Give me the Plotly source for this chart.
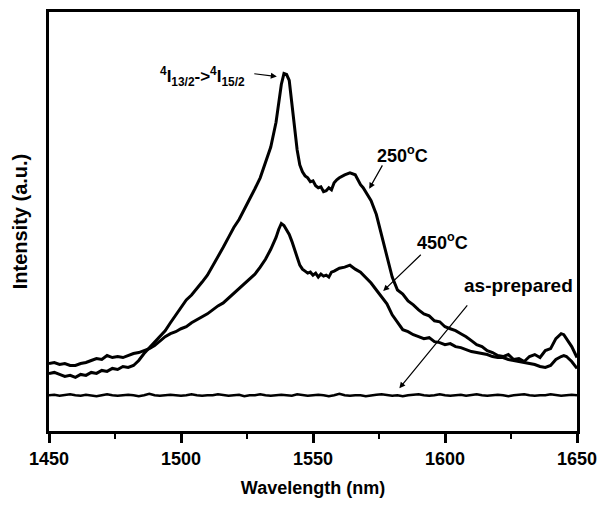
import plotly.graph_objects as go

# ---- data ----
wl_250 = [1450,1452,1454,1456,1458,1460,1462,1464,1466,1468,1470,1472,1474,1476,1478,1480,1482,1484,1486,1488,
          1490,1492,1494,1496,1498,1500,1502,1504,1506,1508,1510,1512,1514,1516,1518,1520,1522,1524,1526,1528,
          1530,1532,1534,1536,1537,1538,1539,1540,1541,1542,1543,1544,1545,1546,1547,1548,1549,1550,1551,1552,
          1553,1554,1555,1556,1557,1558,1559,1560,1562,1564,1566,1567,1568,1569,1570,1572,1574,1576,1578,1580,
          1582,1584,1586,1588,1590,1592,1594,1596,1598,1600,1602,1604,1606,1608,1610,1612,1614,1616,1618,1620,
          1622,1624,1626,1628,1630,1632,1634,1636,1638,1640,1642,1644,1645,1646,1648,1650]
int_250 = [57,58,56,54,55,53,56,55,58,57,60,59,62,61,64,63,65,70,77,83,
           88,94,100,108,116,124,131,136,142,149,156,165,175,184,194,204,212,222,232,243,
           254,270,285,310,330,348,359,358,352,330,305,282,267,260,256,254,250,251,246,244,
           245,240,241,244,242,249,252,254,257,259,257,252,247,244,240,231,217,196,175,154,
           141,137,130,126,121,117,115,110,109,104,102,100,97,94,90,86,84,80,78,75,
           74,76,71,72,69,74,76,73,80,82,92,97,96,92,84,73]

wl_450 = [1450,1452,1454,1456,1458,1460,1462,1464,1466,1468,1470,1472,1474,1476,1478,1480,1482,1484,1486,1488,
          1490,1492,1494,1496,1498,1500,1502,1504,1506,1508,1510,1512,1514,1516,1518,1520,1522,1524,1526,1528,
          1530,1532,1534,1536,1537,1538,1539,1540,1541,1542,1543,1544,1545,1546,1547,1548,1549,1550,1551,1552,
          1553,1554,1555,1556,1557,1558,1560,1562,1564,1566,1568,1570,1572,1574,1576,1578,1580,1582,1584,1586,
          1588,1590,1592,1594,1596,1598,1600,1602,1604,1606,1608,1610,1612,1614,1616,1618,1620,1622,1624,1626,
          1628,1630,1632,1634,1636,1638,1640,1642,1644,1645,1646,1648,1650]
int_450 = [67,68,66,67,65,65,67,68,70,72,71,75,73,74,73,75,77,78,80,82,
           85,90,94,97,99,102,104,108,111,114,117,121,125,128,133,138,143,147,152,157,
           164,172,182,194,202,208,206,201,197,190,183,174,166,162,160,158,159,156,158,154,
           157,155,156,154,159,160,163,164,166,162,159,154,148,141,134,127,116,108,101,99,
           96,94,92,93,89,88,86,87,84,83,81,79,78,77,76,74,73,73,71,70,
           69,68,67,66,64,63,65,71,74,75,74,69,62]

int_asprep = [35,35.5,34.5,35,36,35,34.5,35.5,35,34,35,36,35,34.5,35,35.5,35,34,35,36.5,
              35,34.5,35,35.5,35,34.5,35,36,35,34.5,35,35,36,35,34.5,35,35.5,34,35,35,
              36,35,34.5,35,35.5,35,34.5,36,35,34.5,35,35.5,35,34,35,36.5,35,34.5,35,35,
              34,35,35.5,36,35,34.5,35,34,35,35.5,36,35,34.5,35,36,35,34.5,35,35.5,34.5,
              35,36,35,34.5,35,35.5,35,34,35,35.5,36,35,34.5,35,35,36,35,34.5,35,35.5,35]
wl_asprep = list(range(1450, 1450 + 2 * len(int_asprep), 2))

x_ticks = [1450, 1500, 1550, 1600, 1650]

FONT = "Liberation Sans"

fig = go.Figure()
line = dict(color="black", width=3)
fig.add_trace(go.Scatter(x=wl_250, y=int_250, mode="lines", line=line, name="250°C"))
fig.add_trace(go.Scatter(x=wl_450, y=int_450, mode="lines", line=line, name="450°C"))
fig.add_trace(go.Scatter(x=wl_asprep, y=int_asprep, mode="lines", line=dict(color="black", width=2.5),
                         name="as-prepared"))

tfont = dict(family=FONT, size=18, color="black", weight="bold")
ann = []
# text labels
ann.append(dict(x=1508, y=356, text="<sup>4</sup>I<sub>13/2</sub>-><sup>4</sup>I<sub>15/2</sub>",
                showarrow=False, font=dict(family=FONT, size=17, color="black", weight="bold"),
                xanchor="center", yanchor="middle"))
ann.append(dict(x=1584, y=277, text="250<sup>o</sup>C", showarrow=False, font=tfont,
                xanchor="center", yanchor="middle"))
ann.append(dict(x=1599, y=190, text="450<sup>o</sup>C", showarrow=False, font=tfont,
                xanchor="center", yanchor="middle"))
ann.append(dict(x=1628, y=146, text="as-prepared", showarrow=False,
                font=dict(family=FONT, size=19, color="black", weight="bold"),
                xanchor="center", yanchor="middle"))
# arrows (head at x,y ; tail at ax,ay)
arrows = [((1536.3, 356), (1527.2, 359)),
          ((1571.3, 243), (1576.6, 268)),
          ((1576.6, 140), (1591.4, 178)),
          ((1582.7, 42), (1608.9, 127))]
for (hx, hy), (tx, ty) in arrows:
    ann.append(dict(x=hx, y=hy, ax=tx, ay=ty, xref="x", yref="y", axref="x", ayref="y",
                    text="", showarrow=True, arrowhead=2, arrowsize=1, arrowwidth=1.2,
                    arrowcolor="black"))

fig.update_layout(
    width=606, height=506,
    margin=dict(l=49, r=29, t=9, b=75),
    paper_bgcolor="white", plot_bgcolor="white",
    showlegend=False,
    annotations=ann,
    xaxis=dict(range=[1450, 1650], tickvals=x_ticks, ticks="outside", ticklen=9, tickwidth=2.5,
               tickcolor="black", showline=True, mirror=True, linecolor="black", linewidth=3,
               showgrid=False, zeroline=False,
               tickfont=dict(family=FONT, size=18, color="black", weight="bold"),
               minor=dict(tickvals=[1475, 1525, 1575, 1625], ticks="outside", ticklen=5,
                          tickwidth=2, tickcolor="black"),
               title=dict(text="Wavelength (nm)", standoff=14,
                          font=dict(family=FONT, size=18, color="black", weight="bold"))),
    yaxis=dict(range=[-1, 421], showticklabels=False, ticks="", showline=True, mirror=True,
               linecolor="black", linewidth=3, showgrid=False, zeroline=False,
               title=dict(text="Intensity (a.u.)", standoff=14,
                          font=dict(family=FONT, size=20, color="black", weight="bold"))),
)

fig.write_html("out.html")
